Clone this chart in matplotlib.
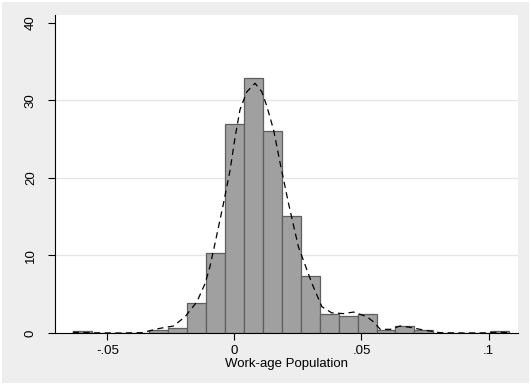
"""
Histograma con densidad kernel: Work-age Population.
Guarda out.png (531x385).
"""

import matplotlib
matplotlib.use("Agg")
import matplotlib.pyplot as plt
import matplotlib.patches as mpatches
import numpy as np

# ── Datos ────────────────────────────────────────────────────────────────────
BIN_START = -0.0636
BIN_WIDTH = 0.00747
densidades = [0.22, 0, 0, 0, 0.4, 0.68, 3.9, 10.3, 27.0, 32.9, 26.0, 15.1,
              7.4, 2.45, 2.24, 2.45, 0.43, 0.94, 0.43, 0, 0, 0, 0.22]

kde_x = [-0.0636, -0.055, -0.045, -0.0365, -0.0293, -0.024, -0.0194, -0.0148,
         -0.0115, -0.0096, -0.0076, -0.0043, -0.0017, 0.0003, 0.0022, 0.0049,
         0.0081, 0.0108, 0.0128, 0.0154, 0.018, 0.0213, 0.0252, 0.0305,
         0.0344, 0.0383, 0.0429, 0.0469, 0.0521, 0.0547, 0.0574, 0.0613,
         0.0652, 0.0692, 0.0731, 0.0783, 0.081, 0.09, 0.1, 0.1045, 0.108]
kde_y = [0.1, 0.02, 0.0, 0.04, 0.6, 0.9, 2.1, 4.0,
         6.4, 8.6, 11.6, 16.7, 21.0, 25.3, 28.8, 31.1,
         32.2, 31.1, 29.2, 26.2, 21.9, 16.7, 11.1, 6.4,
         3.4, 2.6, 2.5, 2.7, 2.1, 1.45, 0.47, 0.47,
         0.9, 0.73, 0.47, 0.17, 0.04, 0.0, 0.02, 0.1, 0.05]

xticks = [-0.05, 0, 0.05, 0.1]
xtick_labels = ["-.05", "0", ".05", ".1"]
yticks = [0, 10, 20, 30, 40]
ytick_labels = ["0", "10", "20", "30", "40"]

# ── Estilo ───────────────────────────────────────────────────────────────────
BG_OUT = "#EEEEEE"
BAR_FC = "#A0A0A0"
BAR_EC = "#5F5F5F"
GRID = "#E6E6E6"
FG = "#000000"

plt.rcParams["font.family"] = ["Liberation Sans", "DejaVu Sans"]

fig = plt.figure(figsize=(5.31, 3.85), dpi=100)
fig.patch.set_facecolor("white")
fig.patches.append(mpatches.Rectangle((2 / 531, 2 / 385), 527 / 531, 381 / 385,
                                      transform=fig.transFigure,
                                      facecolor=BG_OUT, edgecolor="none",
                                      zorder=-10))

ax = fig.add_axes([55 / 531, 52 / 385, 463 / 531, 318 / 385])
ax.set_facecolor("white")

lefts = [BIN_START + i * BIN_WIDTH for i in range(len(densidades))]
ax.bar(lefts, densidades, width=BIN_WIDTH, align="edge", color=BAR_FC,
       edgecolor=BAR_EC, linewidth=0.9, zorder=2)

ax.plot(kde_x, kde_y, color=FG, linewidth=0.9, linestyle=(0, (5, 3.5)),
        zorder=3)

ax.set_xlim(-0.0706, 0.1116)
ax.set_ylim(0, 41.0)

ax.set_xticks(xticks)
ax.set_xticklabels(xtick_labels, fontsize=9.5)
ax.set_yticks(yticks)
ax.set_yticklabels(ytick_labels, fontsize=9.5, rotation=90, va="center")
ax.tick_params(axis="both", length=5, width=0.8, color=FG)
ax.tick_params(axis="y", pad=8)
ax.tick_params(axis="x", pad=4)

for y in [10, 20, 30]:
    ax.axhline(y, color=GRID, linewidth=0.9, zorder=1)

for side in ["top", "right"]:
    ax.spines[side].set_visible(False)
for side in ["left", "bottom"]:
    ax.spines[side].set_linewidth(0.8)
    ax.spines[side].set_color(FG)

ax.set_xlabel("Work-age Population", fontsize=9.5, labelpad=0)

fig.savefig("out.png", dpi=100, facecolor=fig.get_facecolor())
